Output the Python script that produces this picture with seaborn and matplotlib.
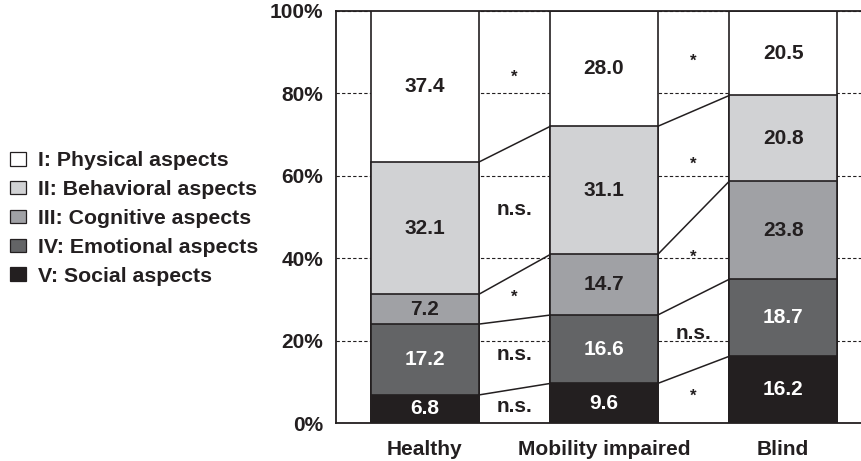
import numpy as np
import pandas as pd
import matplotlib
matplotlib.use("Agg")
import matplotlib.pyplot as plt
import seaborn as sns
from matplotlib.patches import Patch

sns.set_style("white")
plt.rcParams['font.family'] = ['Liberation Sans', 'DejaVu Sans']
plt.rcParams['font.weight'] = 'bold'

# --- datos ---
groups = ["Healthy", "Mobility impaired", "Blind"]
aspects = ["I: Physical aspects", "II: Behavioral aspects", "III: Cognitive aspects",
           "IV: Emotional aspects", "V: Social aspects"]
# valores de abajo hacia arriba: Social, Emotional, Cognitive, Behavioral, Physical
social = [6.8, 9.6, 16.2]
emotional = [17.2, 16.6, 18.7]
cognitive = [7.2, 14.7, 23.8]
behavioral = [32.1, 31.1, 20.8]
physical = [37.4, 28.0, 20.5]
# significancia entre grupos vecinos (orden Physical -> Social)
sig_healthy_mob = ["*", "n.s.", "*", "n.s.", "n.s."]
sig_mob_blind = ["*", "*", "*", "n.s.", "*"]

colors = ["#ffffff", "#d1d2d4", "#a0a1a5", "#636466", "#231f20"]
txt_dark = "#231f20"

stack = [social, emotional, cognitive, behavioral, physical]  # abajo -> arriba
stack_colors = colors[::-1]
stack_txt = ["white", "white", txt_dark, txt_dark, txt_dark]

cum = np.cumsum(np.array(stack), axis=0)  # filas: tope acumulado de cada aspecto
bottoms = cum - np.array(stack)

df = pd.DataFrame({"group": np.tile(groups, len(stack)),
                   "level": np.repeat(range(len(stack)), len(groups)),
                   "top": cum.flatten()})

fig = plt.figure(figsize=(8.61, 4.61), dpi=100)
ax = fig.add_axes([336 / 861, 38 / 461, 525 / 861, 412 / 461])

w = 0.6
# barras apiladas: dibujamos del acumulado mayor al menor
for lvl in reversed(range(len(stack))):
    sub = df[df["level"] == lvl]
    sns.barplot(data=sub, x="group", y="top", color=stack_colors[lvl], order=groups,
                width=w, edgecolor="#231f20", linewidth=1.2, saturation=1, ax=ax, zorder=2)

# etiquetas dentro de cada segmento
for lvl in range(len(stack)):
    for i in range(len(groups)):
        mid = (bottoms[lvl, i] + min(cum[lvl, i], 100)) / 2
        ax.text(i, mid, f"{stack[lvl][i]:.1f}", ha="center", va="center",
                fontsize=15, fontweight="bold", color=stack_txt[lvl], zorder=4)

# lineas que unen los segmentos
for lvl in range(len(stack) - 1):
    for i in range(len(groups) - 1):
        ax.plot([i + w / 2, i + 1 - w / 2], [cum[lvl, i], cum[lvl, i + 1]],
                color="#231f20", lw=1.1, zorder=3)

# significancia en los huecos
for gi, sig in enumerate([sig_healthy_mob, sig_mob_blind]):
    for k, lab in enumerate(sig):
        lvl = len(stack) - 1 - k
        m1 = (bottoms[lvl, gi] + min(cum[lvl, gi], 100)) / 2
        m2 = (bottoms[lvl, gi + 1] + min(cum[lvl, gi + 1], 100)) / 2
        ax.text(gi + 0.5, (m1 + m2) / 2, lab, ha="center", va="center",
                fontsize=15 if lab != "*" else 12, fontweight="bold", color=txt_dark, zorder=4)

ax.set_ylim(0, 100)
ax.set_xlim(-0.496, 2.435)
ax.set_yticks(range(0, 101, 20))
ax.set_yticklabels([f"{v}%" for v in range(0, 101, 20)])
ax.yaxis.grid(True, linestyle=(0, (3, 2)), color="#231f20", lw=0.8)
ax.set_axisbelow(True)
ax.tick_params(length=0, labelsize=15, labelcolor=txt_dark)
ax.tick_params(axis="y", pad=9)
ax.tick_params(axis="x", pad=12)
for t in ax.get_xticklabels() + ax.get_yticklabels():
    t.set_fontweight("bold")
ax.set_xlabel("")
ax.set_ylabel("")
for s in ["left", "top", "bottom"]:
    ax.spines[s].set_color("#231f20")
    ax.spines[s].set_linewidth(1.3)
ax.spines["right"].set_visible(False)

handles = [Patch(facecolor=c, edgecolor="#231f20", linewidth=0.9) for c in colors]
fig.legend(handles, aspects, loc="center left", bbox_to_anchor=(0.002, 0.526),
           frameon=False, prop={"weight": "bold", "size": 15.3}, handlelength=0.75,
           handleheight=0.6, handletextpad=0.55, labelspacing=0.46, borderaxespad=0,
           labelcolor=txt_dark)

fig.savefig("out.png", dpi=100)
